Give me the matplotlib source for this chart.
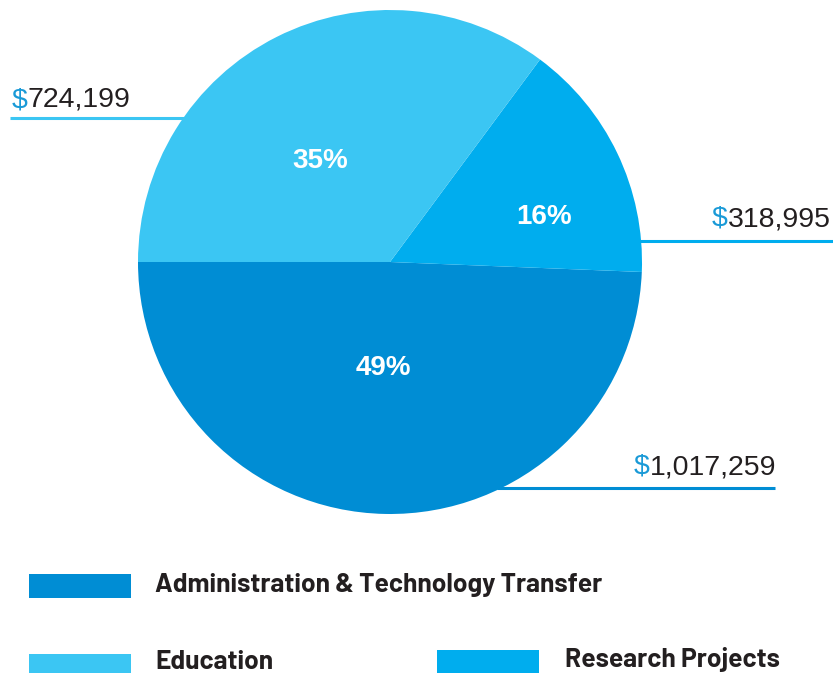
import matplotlib
matplotlib.use("Agg")
import matplotlib.pyplot as plt
from matplotlib.patches import Rectangle
import numpy as np

# ---- data ----
categories = ["Administration & Technology Transfer", "Research Projects", "Education"]
amounts = [1017259, 318995, 724199]
pct_labels = ["49%", "16%", "35%"]
amount_labels = ["$1,017,259", "$318,995", "$724,199"]
legend_order = ["Administration & Technology Transfer", "Education", "Research Projects"]

colors = {"Administration & Technology Transfer": "#008DD4",
          "Research Projects": "#00ADEE",
          "Education": "#3BC6F3"}
TEXT = "#231F20"
W, H = 833, 673

fig = plt.figure(figsize=(W / 100, H / 100), dpi=100)
ax = fig.add_axes([0, 0, 1, 1])

cx, cy, r = 390, H - 262, 252
ax.pie(amounts, colors=[colors[c] for c in categories], startangle=180,
       counterclock=True, center=(cx, cy), radius=r,
       wedgeprops=dict(linewidth=0))
ax.set_xlim(0, W)
ax.set_ylim(0, H)
ax.set_aspect("auto")
ax.axis("off")

# percentage labels
pct_pos = {"49%": (383, 368), "16%": (544, 217), "35%": (320, 161)}
for p in pct_labels:
    x, y = pct_pos[p]
    ax.text(x, H - y, p, color="white", fontsize=20, fontweight="bold",
            family="Liberation Sans", ha="center", va="center")

# amount labels with leader lines
def edge_x(y_pix, side):
    dy = (H - y_pix) - cy
    return cx + side * np.sqrt(max(r * r - dy * dy, 0))

lead = {
    "$724,199": dict(y=118, x0=10, x1=edge_x(118, -1) + 4, tx=12, ha="left", base=107,
                     col=colors["Education"]),
    "$318,995": dict(y=241, x0=edge_x(241, 1) - 3, x1=W, tx=831, ha="right", base=226,
                     col=colors["Research Projects"]),
    "$1,017,259": dict(y=488, x0=edge_x(488, 1) - 4, x1=775, tx=776, ha="right", base=474,
                       col=colors["Administration & Technology Transfer"]),
}
FS = 20.5
for lab in amount_labels:
    d = lead[lab]
    ax.plot([d["x0"], d["x1"]], [H - d["y"], H - d["y"]], color=d["col"], lw=2.2,
            solid_capstyle="butt")
    if d["ha"] == "left":
        t1 = ax.text(d["tx"], H - d["base"], "$", color="#1A9AD7", fontsize=FS,
                     family="Liberation Sans", ha="left", va="baseline")
        fig.canvas.draw()
        bb = t1.get_window_extent()
        ax.text(bb.x1, H - d["base"], lab[1:], color=TEXT, fontsize=FS,
                family="Liberation Sans", ha="left", va="baseline")
    else:
        t2 = ax.text(d["tx"], H - d["base"], lab[1:], color=TEXT, fontsize=FS,
                     family="Liberation Sans", ha="right", va="baseline")
        fig.canvas.draw()
        bb = t2.get_window_extent()
        ax.text(bb.x0, H - d["base"], "$", color="#1A9AD7", fontsize=FS,
                family="Liberation Sans", ha="right", va="baseline")

# legend
leg_pos = {
    "Administration & Technology Transfer": dict(rx=29, ry=574, rh=24, tx=155, base=592),
    "Education": dict(rx=29, ry=654, rh=19, tx=155, base=669),
    "Research Projects": dict(rx=437, ry=650, rh=23, tx=565, base=667),
}
for name in legend_order:
    d = leg_pos[name]
    ax.add_patch(Rectangle((d["rx"], H - d["ry"] - d["rh"]), 102, d["rh"],
                           color=colors[name], lw=0))
    ax.text(d["tx"], H - d["base"], name, color=TEXT, fontsize=19, fontweight="bold",
            family=["Barlow", "Barlow Semi Condensed", "DejaVu Sans"],
            ha="left", va="baseline")

fig.savefig("out.png", dpi=100)
